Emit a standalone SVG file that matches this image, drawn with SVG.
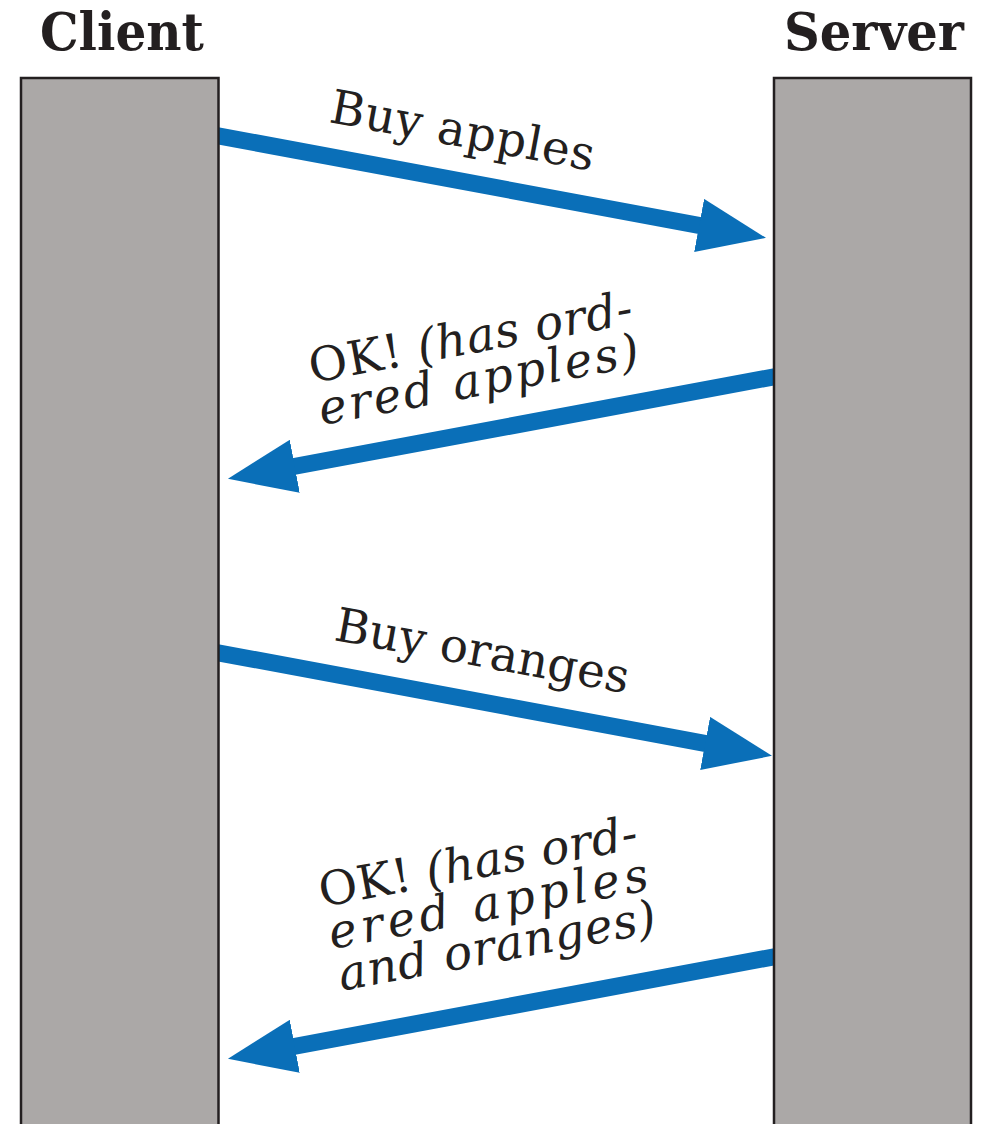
<svg xmlns="http://www.w3.org/2000/svg" width="984" height="1124" viewBox="0 0 984 1124">
<style>
.title{font-family:"DejaVu Serif","Liberation Serif",serif;font-weight:bold;font-size:52px;fill:#231f20}
.lbl{font-family:"DejaVu Serif","Liberation Serif",serif;font-size:47px;fill:#231f20}
.it{font-style:italic}
.bar{fill:#aba8a7;stroke:#231f20;stroke-width:2.5}
.msg{stroke:#0a6fb8;stroke-width:17;fill:none;marker-end:url(#ah)}
</style>
<defs>
<marker id="ah" markerUnits="userSpaceOnUse" markerWidth="68" markerHeight="54" viewBox="0 0 68 54" refX="1" refY="27" orient="auto">
<path d="M0,0 L68,27 L0,54 Z" fill="#0a6fb8"/>
</marker>
</defs>
<rect width="984" height="1124" fill="#ffffff"/>
<g id="connectors">
<line class="msg" x1="199.3" y1="132.3" x2="700.1" y2="225.6"/>
<line class="msg" x1="792.7" y1="373.3" x2="293.8" y2="466.5"/>
<line class="msg" x1="199.3" y1="649.3" x2="706.1" y2="743.6"/>
<line class="msg" x1="792.7" y1="953.3" x2="293.8" y2="1046.5"/>
</g>
<g id="client">
<rect class="bar" x="21" y="78" width="197.5" height="1060"/>
<text class="title" x="40" y="50" textLength="164" lengthAdjust="spacingAndGlyphs">Client</text>
</g>
<g id="server">
<rect class="bar" x="774" y="78" width="197" height="1060"/>
<text class="title" x="784" y="50" textLength="180" lengthAdjust="spacingAndGlyphs">Server</text>
</g>
<g id="label-buy-apples" transform="translate(328,122) rotate(10.5)">
<text class="lbl" x="0" y="0" textLength="268" lengthAdjust="spacing">Buy apples</text>
</g>
<g id="label-ok-apples" transform="translate(312,383) rotate(-10.5)">
<text class="lbl" x="0" y="0" textLength="328" lengthAdjust="spacing">OK! <tspan class="it">(has ord-</tspan></text>
<text class="lbl it" x="2" y="43" textLength="325" lengthAdjust="spacing">ered apples)</text>
</g>
<g id="label-buy-oranges" transform="translate(333,640) rotate(10.3)">
<text class="lbl" x="0" y="0" textLength="298" lengthAdjust="spacing">Buy oranges</text>
</g>
<g id="label-ok-oranges" transform="translate(322,907) rotate(-10.5)">
<text class="lbl" x="0" y="0" textLength="323" lengthAdjust="spacing">OK! <tspan class="it">(has ord-</tspan></text>
<text class="lbl it" x="2" y="43" textLength="324" lengthAdjust="spacing">ered apples</text>
<text class="lbl it" x="4" y="86" textLength="322" lengthAdjust="spacing">and oranges)</text>
</g>
</svg>
